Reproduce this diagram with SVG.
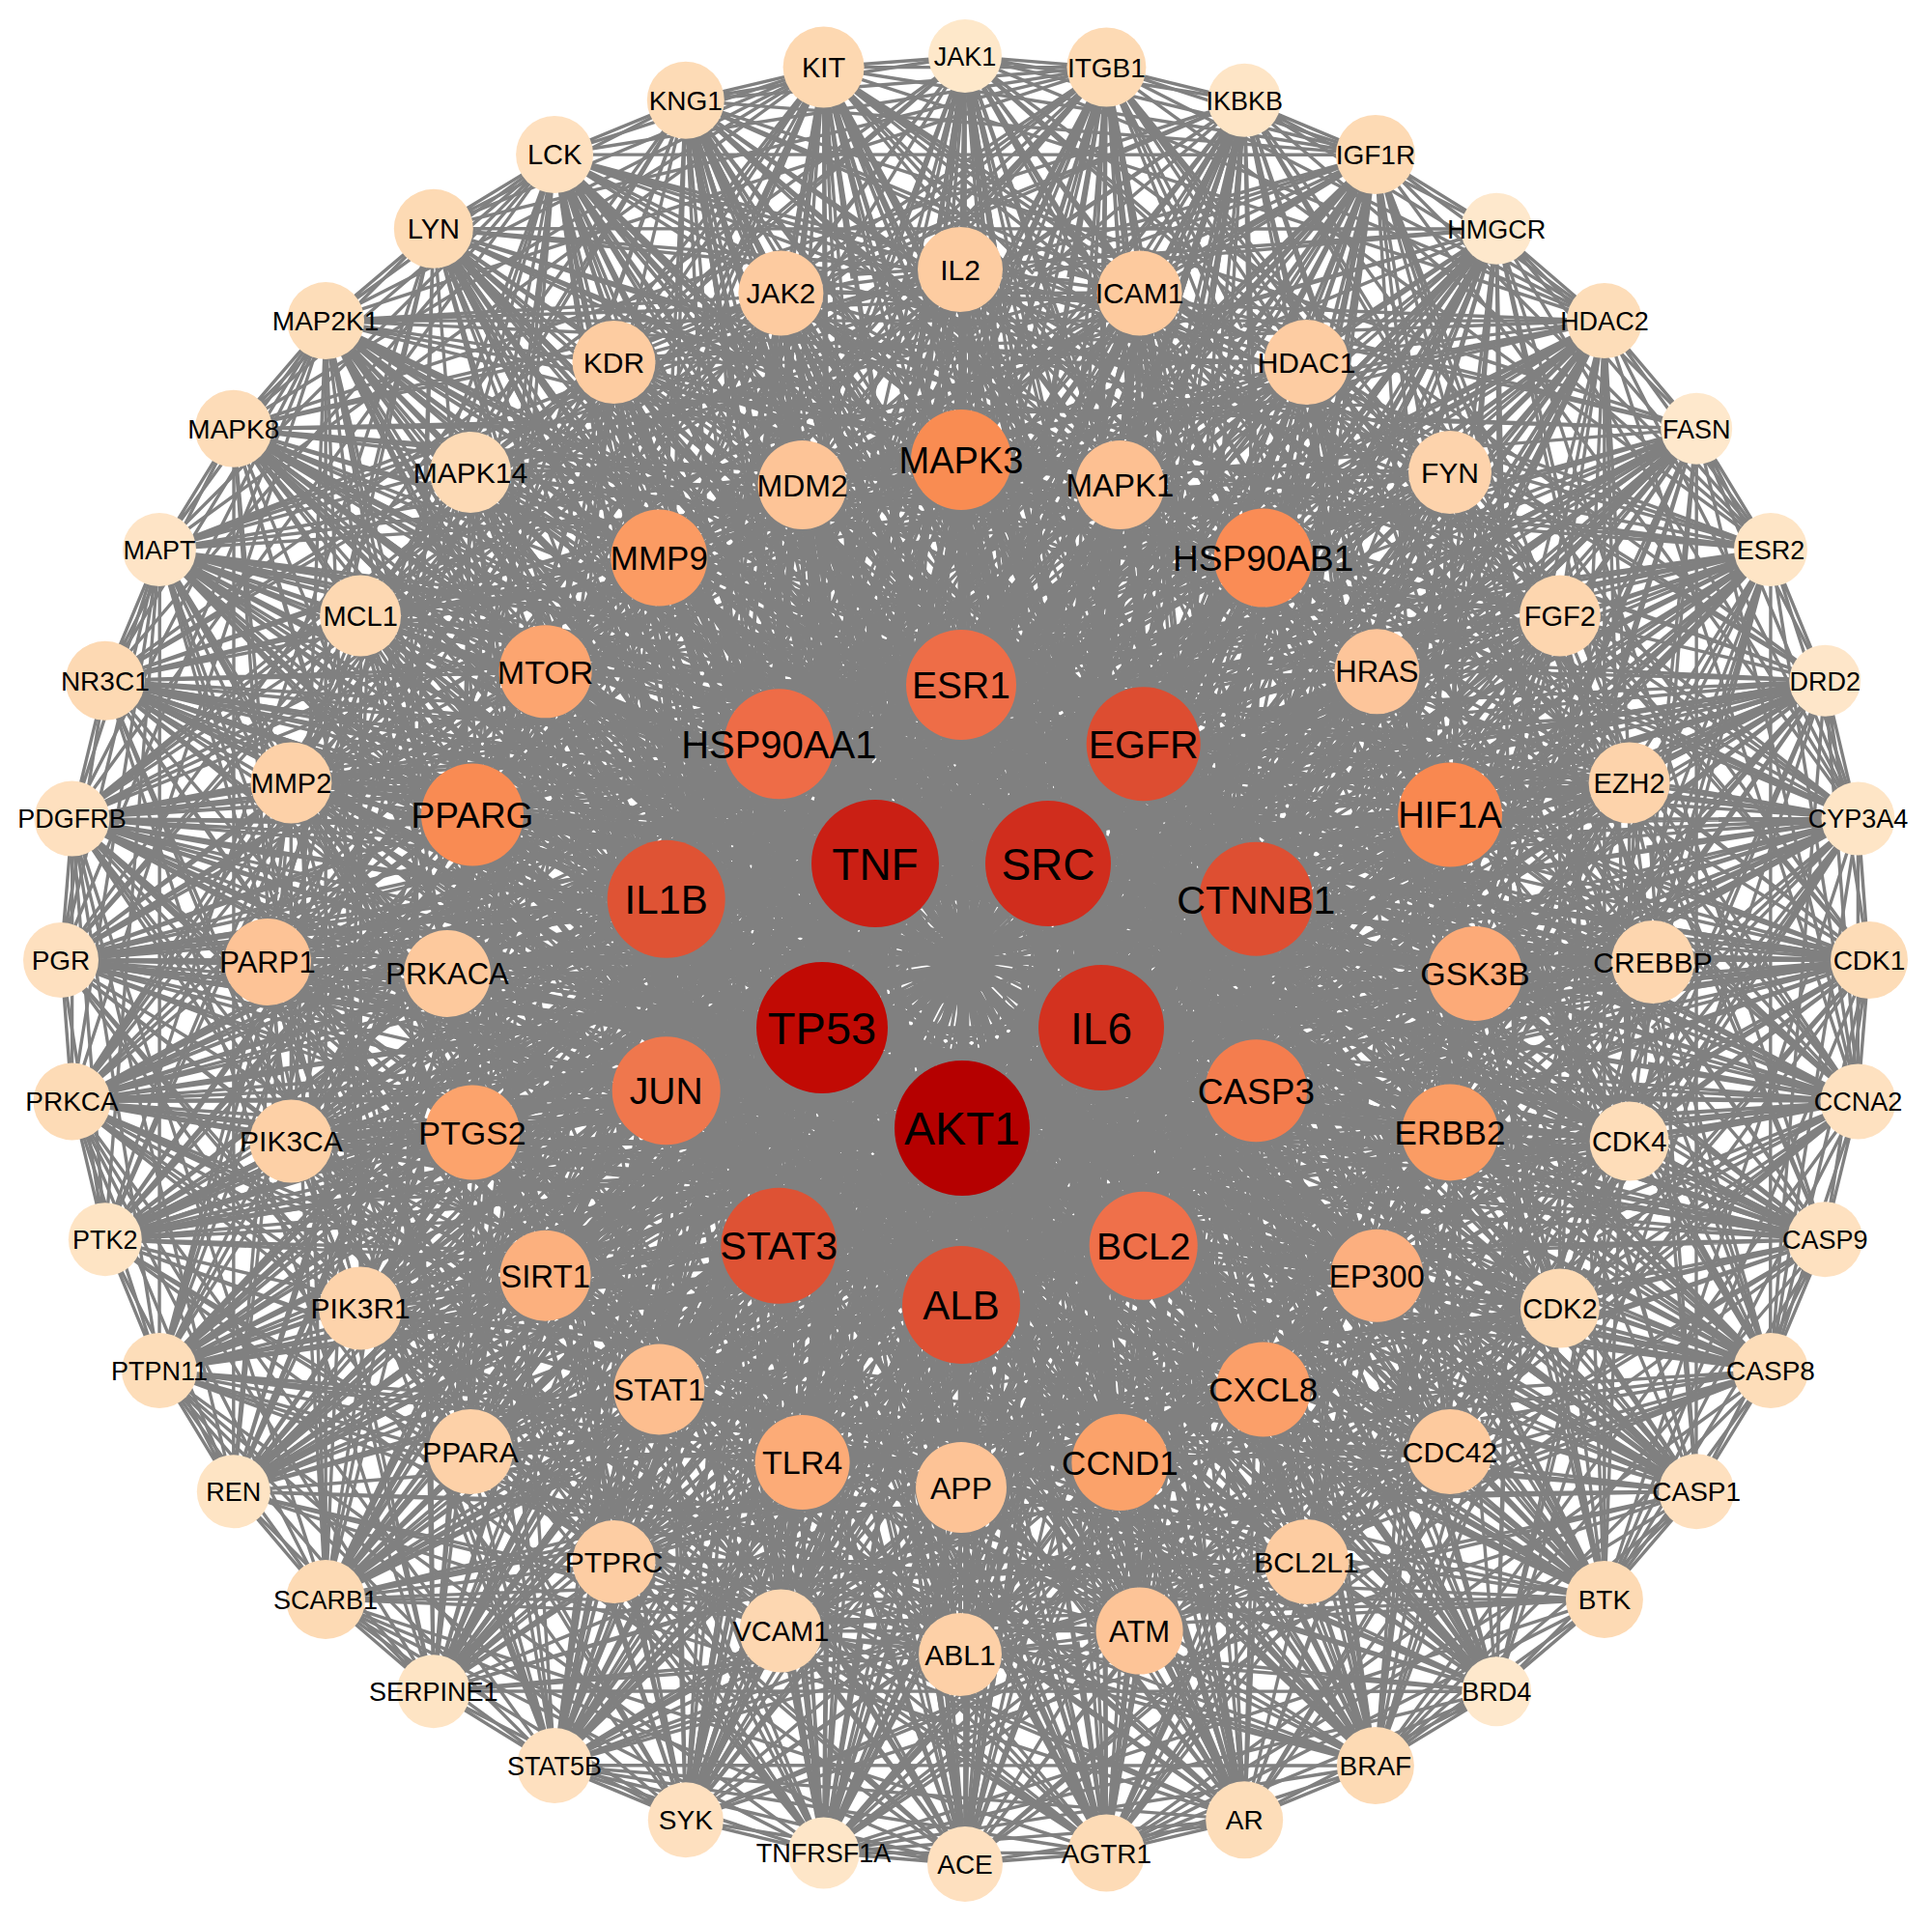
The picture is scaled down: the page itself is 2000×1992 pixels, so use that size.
<svg xmlns="http://www.w3.org/2000/svg" width="2000" height="1992" viewBox="0 0 2000 1992">
<style>
.node text{font-family:"Liberation Sans",Arial,Helvetica,sans-serif;text-anchor:middle;fill:#000}
</style>
<defs>
<path id="eoA" d="M999 58L1145 70M999 58L1288 104M999 58L1424 160M999 58L1661 332M999 58L1889 705M999 58L1833 1419M999 58L999 1930M999 58L1288 1884M999 58L710 1884M999 58L994 279M999 58L1180 303M999 58L808 303M999 58L1353 375M999 58L636 375M999 58L1501 489M999 58L487 489M999 58L1711 996M999 58L277 996M999 58L994 1713M999 58L1180 1689M999 58L808 1689M999 58L995 476M999 58L1159 502M999 58L831 502M999 58L1308 578M999 58L682 578M999 58L1527 1008M999 58L995 1540M999 58L1159 1514M999 58L831 1514M999 58L1308 1438M999 58L682 1438M999 58L995 709M999 58L1184 770M999 58L806 770M999 58L1300 931M999 58L690 931M999 58L995 1351M999 58L906 894M999 58L1085 894M999 58L996 1168M999 58L851 1064M999 58L1140 1064"/>
<path id="eoB" d="M999 58L1145 70M999 58L1288 104M999 58L1549 237M999 58L1756 444M999 58L1935 994M999 58L1549 1751M999 58L1145 1918M999 58L853 1918M999 58L994 279M999 58L1180 303M999 58L808 303M999 58L1353 375M999 58L1615 638M999 58L373 638M999 58L301 810M999 58L1687 810M999 58L636 1617M999 58L1353 1617M999 58L995 476M999 58L1159 502M999 58L1308 578M999 58L1425 695M999 58L565 695M999 58L489 844M999 58L1308 1438M999 58L1425 1321M999 58L565 1321M999 58L995 709M999 58L1184 770M999 58L806 770M999 58L1300 1129M999 58L690 1129M999 58L806 1290M999 58L1184 1290M999 58L906 894M999 58L1085 894M999 58L996 1168M999 58L851 1064M999 58L1140 1064"/>
<path id="em" d="M994 279L1180 303M994 279L1353 375M994 279L1615 638M994 279L1687 1182M994 279L994 1713M994 279L1180 1689M994 279L808 1689M994 279L995 476M994 279L1159 502M994 279L831 502M994 279L1308 578M994 279L682 578M994 279L1425 695M994 279L565 695M994 279L1501 844M994 279L489 844M994 279L995 1540M994 279L1159 1514M994 279L831 1514M994 279L1308 1438M994 279L682 1438M994 279L995 709M994 279L1184 770M994 279L806 770M994 279L1300 931M994 279L690 931M994 279L1300 1129M994 279L690 1129M994 279L995 1351M994 279L1184 1290M994 279L806 1290M994 279L906 894M994 279L1085 894M994 279L996 1168M994 279L851 1064M994 279L1140 1064"/>
<path id="et" d="M995 476L1159 502M995 476L1308 578M995 476L1425 695M995 476L1527 1008M995 476L1425 1321M995 476L995 1540M995 476L1159 1514M995 476L831 1514M995 476L994 1713M995 476L1180 1689M995 476L808 1689M995 476L995 709M995 476L1184 770M995 476L1300 931M995 476L1300 1129M995 476L1184 1290M995 476L995 1351M995 476L806 1290M995 476L690 1129M995 476L690 931M995 476L806 770M995 476L906 894M995 476L1085 894M995 476L996 1168M995 476L851 1064M995 476L1140 1064"/>
<path id="ei" d="M995 709L1184 770M995 709L1300 931M995 709L1300 1129M995 709L1184 1290M995 709L995 1351M995 709L995 1540M995 709L1159 1514M995 709L831 1514M995 709L906 894M995 709L1085 894M995 709L996 1168M995 709L851 1064M995 709L1140 1064"/>
</defs>
<rect width="2000" height="1992" fill="#fff"/>
<g id="edges" fill="none" stroke="#808080" stroke-width="3.4">
<use href="#eoA" transform="rotate(0 999 994)"/><use href="#eoB" transform="rotate(9 999 994)"/>
<use href="#eoA" transform="rotate(18 999 994)"/><use href="#eoB" transform="rotate(27 999 994)"/>
<use href="#eoA" transform="rotate(36 999 994)"/><use href="#eoB" transform="rotate(45 999 994)"/>
<use href="#eoA" transform="rotate(54 999 994)"/><use href="#eoB" transform="rotate(63 999 994)"/>
<use href="#eoA" transform="rotate(72 999 994)"/><use href="#eoB" transform="rotate(81 999 994)"/>
<use href="#eoA" transform="rotate(90 999 994)"/><use href="#eoB" transform="rotate(99 999 994)"/>
<use href="#eoA" transform="rotate(108 999 994)"/><use href="#eoB" transform="rotate(117 999 994)"/>
<use href="#eoA" transform="rotate(126 999 994)"/><use href="#eoB" transform="rotate(135 999 994)"/>
<use href="#eoA" transform="rotate(144 999 994)"/><use href="#eoB" transform="rotate(153 999 994)"/>
<use href="#eoA" transform="rotate(162 999 994)"/><use href="#eoB" transform="rotate(171 999 994)"/>
<use href="#eoA" transform="rotate(180 999 994)"/><use href="#eoB" transform="rotate(189 999 994)"/>
<use href="#eoA" transform="rotate(198 999 994)"/><use href="#eoB" transform="rotate(207 999 994)"/>
<use href="#eoA" transform="rotate(216 999 994)"/><use href="#eoB" transform="rotate(225 999 994)"/>
<use href="#eoA" transform="rotate(234 999 994)"/><use href="#eoB" transform="rotate(243 999 994)"/>
<use href="#eoA" transform="rotate(252 999 994)"/><use href="#eoB" transform="rotate(261 999 994)"/>
<use href="#eoA" transform="rotate(270 999 994)"/><use href="#eoB" transform="rotate(279 999 994)"/>
<use href="#eoA" transform="rotate(288 999 994)"/><use href="#eoB" transform="rotate(297 999 994)"/>
<use href="#eoA" transform="rotate(306 999 994)"/><use href="#eoB" transform="rotate(315 999 994)"/>
<use href="#eoA" transform="rotate(324 999 994)"/><use href="#eoB" transform="rotate(333 999 994)"/>
<use href="#eoA" transform="rotate(342 999 994)"/><use href="#eoB" transform="rotate(351 999 994)"/>
<use href="#em" transform="rotate(0 994 996)"/><use href="#em" transform="rotate(15 994 996)"/>
<use href="#em" transform="rotate(30 994 996)"/><use href="#em" transform="rotate(45 994 996)"/>
<use href="#em" transform="rotate(60 994 996)"/><use href="#em" transform="rotate(75 994 996)"/>
<use href="#em" transform="rotate(90 994 996)"/><use href="#em" transform="rotate(105 994 996)"/>
<use href="#em" transform="rotate(120 994 996)"/><use href="#em" transform="rotate(135 994 996)"/>
<use href="#em" transform="rotate(150 994 996)"/><use href="#em" transform="rotate(165 994 996)"/>
<use href="#em" transform="rotate(180 994 996)"/><use href="#em" transform="rotate(195 994 996)"/>
<use href="#em" transform="rotate(210 994 996)"/><use href="#em" transform="rotate(225 994 996)"/>
<use href="#em" transform="rotate(240 994 996)"/><use href="#em" transform="rotate(255 994 996)"/>
<use href="#em" transform="rotate(270 994 996)"/><use href="#em" transform="rotate(285 994 996)"/>
<use href="#em" transform="rotate(300 994 996)"/><use href="#em" transform="rotate(315 994 996)"/>
<use href="#em" transform="rotate(330 994 996)"/><use href="#em" transform="rotate(345 994 996)"/>
<use href="#et" transform="rotate(0 995 1008)"/><use href="#et" transform="rotate(18 995 1008)"/>
<use href="#et" transform="rotate(36 995 1008)"/><use href="#et" transform="rotate(54 995 1008)"/>
<use href="#et" transform="rotate(72 995 1008)"/><use href="#et" transform="rotate(90 995 1008)"/>
<use href="#et" transform="rotate(108 995 1008)"/><use href="#et" transform="rotate(126 995 1008)"/>
<use href="#et" transform="rotate(144 995 1008)"/><use href="#et" transform="rotate(162 995 1008)"/>
<use href="#et" transform="rotate(180 995 1008)"/><use href="#et" transform="rotate(198 995 1008)"/>
<use href="#et" transform="rotate(216 995 1008)"/><use href="#et" transform="rotate(234 995 1008)"/>
<use href="#et" transform="rotate(252 995 1008)"/><use href="#et" transform="rotate(270 995 1008)"/>
<use href="#et" transform="rotate(288 995 1008)"/><use href="#et" transform="rotate(306 995 1008)"/>
<use href="#et" transform="rotate(324 995 1008)"/><use href="#et" transform="rotate(342 995 1008)"/>
<use href="#ei" transform="rotate(0 995 1030)"/><use href="#ei" transform="rotate(36 995 1030)"/>
<use href="#ei" transform="rotate(72 995 1030)"/><use href="#ei" transform="rotate(108 995 1030)"/>
<use href="#ei" transform="rotate(144 995 1030)"/><use href="#ei" transform="rotate(180 995 1030)"/>
<use href="#ei" transform="rotate(216 995 1030)"/><use href="#ei" transform="rotate(252 995 1030)"/>
<use href="#ei" transform="rotate(288 995 1030)"/><use href="#ei" transform="rotate(324 995 1030)"/>
<path d="M906 894L1085 894M906 894L1140 1064M906 894L996 1168M906 894L851 1064M1085 894L1140 1064M1085 894L996 1168M1085 894L851 1064M1140 1064L996 1168M1140 1064L851 1064M996 1168L851 1064"/>
</g>
<g id="nodes">
<g class="node" id="n-JAK1"><circle cx="999" cy="58" r="38" fill="#FEE8CA"/><text x="999" y="58" dy=".36em" font-size="27">JAK1</text></g>
<g class="node" id="n-ITGB1"><circle cx="1145.4" cy="69.5" r="41" fill="#FDDAB4"/><text x="1145.4" y="69.5" dy=".36em" font-size="28">ITGB1</text></g>
<g class="node" id="n-IKBKB"><circle cx="1288.2" cy="103.8" r="38" fill="#FEE5C6"/><text x="1288.2" y="103.8" dy=".36em" font-size="27">IKBKB</text></g>
<g class="node" id="n-IGF1R"><circle cx="1423.9" cy="160" r="41" fill="#FDDAB4"/><text x="1423.9" y="160" dy=".36em" font-size="28">IGF1R</text></g>
<g class="node" id="n-HMGCR"><circle cx="1549.2" cy="236.8" r="37" fill="#FEE8CC"/><text x="1549.2" y="236.8" dy=".36em" font-size="27">HMGCR</text></g>
<g class="node" id="n-HDAC2"><circle cx="1660.9" cy="332.1" r="39" fill="#FDDDB9"/><text x="1660.9" y="332.1" dy=".36em" font-size="27">HDAC2</text></g>
<g class="node" id="n-FASN"><circle cx="1756.2" cy="443.8" r="37" fill="#FEE8CC"/><text x="1756.2" y="443.8" dy=".36em" font-size="27">FASN</text></g>
<g class="node" id="n-ESR2"><circle cx="1833" cy="569.1" r="38" fill="#FEE5C6"/><text x="1833" y="569.1" dy=".36em" font-size="27">ESR2</text></g>
<g class="node" id="n-DRD2"><circle cx="1889.2" cy="704.8" r="37" fill="#FEE6C9"/><text x="1889.2" y="704.8" dy=".36em" font-size="27">DRD2</text></g>
<g class="node" id="n-CYP3A4"><circle cx="1923.5" cy="847.6" r="38" fill="#FEE5C6"/><text x="1923.5" y="847.6" dy=".36em" font-size="27">CYP3A4</text></g>
<g class="node" id="n-CDK1"><circle cx="1935" cy="994" r="40" fill="#FDDCB7"/><text x="1935" y="994" dy=".36em" font-size="28">CDK1</text></g>
<g class="node" id="n-CCNA2"><circle cx="1923.5" cy="1140.4" r="39" fill="#FEE1C0"/><text x="1923.5" y="1140.4" dy=".36em" font-size="27">CCNA2</text></g>
<g class="node" id="n-CASP9"><circle cx="1889.2" cy="1283.2" r="39" fill="#FEE1C0"/><text x="1889.2" y="1283.2" dy=".36em" font-size="27">CASP9</text></g>
<g class="node" id="n-CASP8"><circle cx="1833" cy="1418.9" r="39" fill="#FDDDB9"/><text x="1833" y="1418.9" dy=".36em" font-size="28">CASP8</text></g>
<g class="node" id="n-CASP1"><circle cx="1756.2" cy="1544.2" r="39" fill="#FEE0BF"/><text x="1756.2" y="1544.2" dy=".36em" font-size="28">CASP1</text></g>
<g class="node" id="n-BTK"><circle cx="1660.9" cy="1655.9" r="40" fill="#FDDAB4"/><text x="1660.9" y="1655.9" dy=".36em" font-size="28">BTK</text></g>
<g class="node" id="n-BRD4"><circle cx="1549.2" cy="1751.2" r="36" fill="#FEE8CC"/><text x="1549.2" y="1751.2" dy=".36em" font-size="27">BRD4</text></g>
<g class="node" id="n-BRAF"><circle cx="1423.9" cy="1828" r="40" fill="#FDDAB4"/><text x="1423.9" y="1828" dy=".36em" font-size="28">BRAF</text></g>
<g class="node" id="n-AR"><circle cx="1288.2" cy="1884.2" r="40" fill="#FDDDB9"/><text x="1288.2" y="1884.2" dy=".36em" font-size="28">AR</text></g>
<g class="node" id="n-AGTR1"><circle cx="1145.4" cy="1918.5" r="40" fill="#FDDBB6"/><text x="1145.4" y="1918.5" dy=".36em" font-size="28">AGTR1</text></g>
<g class="node" id="n-ACE"><circle cx="999" cy="1930" r="39" fill="#FEE0BF"/><text x="999" y="1930" dy=".36em" font-size="28">ACE</text></g>
<g class="node" id="n-TNFRSF1A"><circle cx="852.6" cy="1918.5" r="37" fill="#FEE6C8"/><text x="852.6" y="1918.5" dy=".36em" font-size="27">TNFRSF1A</text></g>
<g class="node" id="n-SYK"><circle cx="709.8" cy="1884.2" r="39" fill="#FEE0BF"/><text x="709.8" y="1884.2" dy=".36em" font-size="28">SYK</text></g>
<g class="node" id="n-STAT5B"><circle cx="574.1" cy="1828" r="39" fill="#FEE0BF"/><text x="574.1" y="1828" dy=".36em" font-size="27">STAT5B</text></g>
<g class="node" id="n-SERPINE1"><circle cx="448.8" cy="1751.2" r="38" fill="#FEE4C4"/><text x="448.8" y="1751.2" dy=".36em" font-size="27">SERPINE1</text></g>
<g class="node" id="n-SCARB1"><circle cx="337.1" cy="1655.9" r="41" fill="#FDDAB4"/><text x="337.1" y="1655.9" dy=".36em" font-size="27">SCARB1</text></g>
<g class="node" id="n-REN"><circle cx="241.8" cy="1544.2" r="38" fill="#FEE4C4"/><text x="241.8" y="1544.2" dy=".36em" font-size="27">REN</text></g>
<g class="node" id="n-PTPN11"><circle cx="165" cy="1418.9" r="39" fill="#FDDDB9"/><text x="165" y="1418.9" dy=".36em" font-size="27">PTPN11</text></g>
<g class="node" id="n-PTK2"><circle cx="108.8" cy="1283.2" r="38" fill="#FEE4C4"/><text x="108.8" y="1283.2" dy=".36em" font-size="27">PTK2</text></g>
<g class="node" id="n-PRKCA"><circle cx="74.5" cy="1140.4" r="40" fill="#FDDBB6"/><text x="74.5" y="1140.4" dy=".36em" font-size="28">PRKCA</text></g>
<g class="node" id="n-PGR"><circle cx="63" cy="994" r="39" fill="#FEE0BF"/><text x="63" y="994" dy=".36em" font-size="28">PGR</text></g>
<g class="node" id="n-PDGFRB"><circle cx="74.5" cy="847.6" r="39" fill="#FEE0BF"/><text x="74.5" y="847.6" dy=".36em" font-size="27">PDGFRB</text></g>
<g class="node" id="n-NR3C1"><circle cx="108.8" cy="704.8" r="41" fill="#FDD9B3"/><text x="108.8" y="704.8" dy=".36em" font-size="28">NR3C1</text></g>
<g class="node" id="n-MAPT"><circle cx="165" cy="569.1" r="38" fill="#FEE4C6"/><text x="165" y="569.1" dy=".36em" font-size="27">MAPT</text></g>
<g class="node" id="n-MAPK8"><circle cx="241.8" cy="443.8" r="40" fill="#FDDCB8"/><text x="241.8" y="443.8" dy=".36em" font-size="28">MAPK8</text></g>
<g class="node" id="n-MAP2K1"><circle cx="337.1" cy="332.1" r="40" fill="#FDDDB9"/><text x="337.1" y="332.1" dy=".36em" font-size="28">MAP2K1</text></g>
<g class="node" id="n-LYN"><circle cx="448.8" cy="236.8" r="41" fill="#FDDAB4"/><text x="448.8" y="236.8" dy=".36em" font-size="29">LYN</text></g>
<g class="node" id="n-LCK"><circle cx="574.1" cy="160" r="40" fill="#FEE0BF"/><text x="574.1" y="160" dy=".36em" font-size="29">LCK</text></g>
<g class="node" id="n-KNG1"><circle cx="709.8" cy="103.8" r="40" fill="#FDDBB6"/><text x="709.8" y="103.8" dy=".36em" font-size="28">KNG1</text></g>
<g class="node" id="n-KIT"><circle cx="852.6" cy="69.5" r="42" fill="#FDD8B1"/><text x="852.6" y="69.5" dy=".36em" font-size="29">KIT</text></g>

<g class="node" id="n-IL2"><circle cx="994" cy="279" r="44" fill="#FDCCA1"/><text x="994" y="279" dy=".36em" font-size="30">IL2</text></g>
<g class="node" id="n-ICAM1"><circle cx="1179.6" cy="303.4" r="44" fill="#FDCA9E"/><text x="1179.6" y="303.4" dy=".36em" font-size="30">ICAM1</text></g>
<g class="node" id="n-HDAC1"><circle cx="1352.5" cy="375.1" r="44" fill="#FDCCA2"/><text x="1352.5" y="375.1" dy=".36em" font-size="30">HDAC1</text></g>
<g class="node" id="n-FYN"><circle cx="1501" cy="489" r="43" fill="#FDD3AC"/><text x="1501" y="489" dy=".36em" font-size="30">FYN</text></g>
<g class="node" id="n-FGF2"><circle cx="1614.9" cy="637.5" r="42" fill="#FDD6AF"/><text x="1614.9" y="637.5" dy=".36em" font-size="29">FGF2</text></g>
<g class="node" id="n-EZH2"><circle cx="1686.6" cy="810.4" r="42" fill="#FDD3AB"/><text x="1686.6" y="810.4" dy=".36em" font-size="29">EZH2</text></g>
<g class="node" id="n-CREBBP"><circle cx="1711" cy="996" r="43" fill="#FDD6AF"/><text x="1711" y="996" dy=".36em" font-size="30">CREBBP</text></g>
<g class="node" id="n-CDK4"><circle cx="1686.6" cy="1181.6" r="41" fill="#FEDDB9"/><text x="1686.6" y="1181.6" dy=".36em" font-size="29">CDK4</text></g>
<g class="node" id="n-CDK2"><circle cx="1614.9" cy="1354.5" r="41" fill="#FDDAB4"/><text x="1614.9" y="1354.5" dy=".36em" font-size="29">CDK2</text></g>
<g class="node" id="n-CDC42"><circle cx="1501" cy="1503" r="44" fill="#FDCA9E"/><text x="1501" y="1503" dy=".36em" font-size="30">CDC42</text></g>
<g class="node" id="n-BCL2L1"><circle cx="1352.5" cy="1616.9" r="44" fill="#FDCCA1"/><text x="1352.5" y="1616.9" dy=".36em" font-size="30">BCL2L1</text></g>
<g class="node" id="n-ATM"><circle cx="1179.6" cy="1688.6" r="45" fill="#FDC497"/><text x="1179.6" y="1688.6" dy=".36em" font-size="31">ATM</text></g>
<g class="node" id="n-ABL1"><circle cx="994" cy="1713" r="43" fill="#FDD0A7"/><text x="994" y="1713" dy=".36em" font-size="30">ABL1</text></g>
<g class="node" id="n-VCAM1"><circle cx="808.4" cy="1688.6" r="43" fill="#FDD7B1"/><text x="808.4" y="1688.6" dy=".36em" font-size="29">VCAM1</text></g>
<g class="node" id="n-PTPRC"><circle cx="635.5" cy="1616.9" r="43" fill="#FDCDA3"/><text x="635.5" y="1616.9" dy=".36em" font-size="30">PTPRC</text></g>
<g class="node" id="n-PPARA"><circle cx="487" cy="1503" r="44" fill="#FDD1A8"/><text x="487" y="1503" dy=".36em" font-size="30">PPARA</text></g>
<g class="node" id="n-PIK3R1"><circle cx="373.1" cy="1354.5" r="43" fill="#FDD3AB"/><text x="373.1" y="1354.5" dy=".36em" font-size="30">PIK3R1</text></g>
<g class="node" id="n-PIK3CA"><circle cx="301.4" cy="1181.6" r="43" fill="#FDD0A6"/><text x="301.4" y="1181.6" dy=".36em" font-size="30">PIK3CA</text></g>
<g class="node" id="n-PARP1"><circle cx="277" cy="996" r="45" fill="#FDC396"/><text x="277" y="996" dy=".36em" font-size="31">PARP1</text></g>
<g class="node" id="n-MMP2"><circle cx="301.4" cy="810.4" r="42" fill="#FDD1A8"/><text x="301.4" y="810.4" dy=".36em" font-size="29">MMP2</text></g>
<g class="node" id="n-MCL1"><circle cx="373.1" cy="637.5" r="42" fill="#FDD8B2"/><text x="373.1" y="637.5" dy=".36em" font-size="29">MCL1</text></g>
<g class="node" id="n-MAPK14"><circle cx="487" cy="489" r="42" fill="#FDDAB5"/><text x="487" y="489" dy=".36em" font-size="30">MAPK14</text></g>
<g class="node" id="n-KDR"><circle cx="635.5" cy="375.1" r="43" fill="#FDCCA1"/><text x="635.5" y="375.1" dy=".36em" font-size="30">KDR</text></g>
<g class="node" id="n-JAK2"><circle cx="808.4" cy="303.4" r="44" fill="#FDCBA0"/><text x="808.4" y="303.4" dy=".36em" font-size="30">JAK2</text></g>

<g class="node" id="n-MAPK3"><circle cx="995" cy="476" r="52" fill="#F98C52"/><text x="995" y="476" dy=".36em" font-size="38">MAPK3</text></g>
<g class="node" id="n-MAPK1"><circle cx="1159.4" cy="502" r="46" fill="#FDC092"/><text x="1159.4" y="502" dy=".36em" font-size="33">MAPK1</text></g>
<g class="node" id="n-HSP90AB1"><circle cx="1307.7" cy="577.6" r="51" fill="#FA8C55"/><text x="1307.7" y="577.6" dy=".36em" font-size="37">HSP90AB1</text></g>
<g class="node" id="n-HRAS"><circle cx="1425.4" cy="695.3" r="44" fill="#FDC59A"/><text x="1425.4" y="695.3" dy=".36em" font-size="31">HRAS</text></g>
<g class="node" id="n-HIF1A"><circle cx="1501" cy="843.6" r="54" fill="#F98850"/><text x="1501" y="843.6" dy=".36em" font-size="38">HIF1A</text></g>
<g class="node" id="n-GSK3B"><circle cx="1527" cy="1008" r="49" fill="#FCAA78"/><text x="1527" y="1008" dy=".36em" font-size="34">GSK3B</text></g>
<g class="node" id="n-ERBB2"><circle cx="1501" cy="1172.4" r="50" fill="#FA9C64"/><text x="1501" y="1172.4" dy=".36em" font-size="35">ERBB2</text></g>
<g class="node" id="n-EP300"><circle cx="1425.4" cy="1320.7" r="48" fill="#FCAF7F"/><text x="1425.4" y="1320.7" dy=".36em" font-size="33">EP300</text></g>
<g class="node" id="n-CXCL8"><circle cx="1307.7" cy="1438.4" r="49" fill="#FB9F69"/><text x="1307.7" y="1438.4" dy=".36em" font-size="35">CXCL8</text></g>
<g class="node" id="n-CCND1"><circle cx="1159.4" cy="1514" r="50" fill="#FBA26A"/><text x="1159.4" y="1514" dy=".36em" font-size="35">CCND1</text></g>
<g class="node" id="n-APP"><circle cx="995" cy="1540" r="47" fill="#FDC396"/><text x="995" y="1540" dy=".36em" font-size="32">APP</text></g>
<g class="node" id="n-TLR4"><circle cx="830.6" cy="1514" r="49" fill="#FCAB77"/><text x="830.6" y="1514" dy=".36em" font-size="34">TLR4</text></g>
<g class="node" id="n-STAT1"><circle cx="682.3" cy="1438.4" r="47" fill="#FDBE8F"/><text x="682.3" y="1438.4" dy=".36em" font-size="32">STAT1</text></g>
<g class="node" id="n-SIRT1"><circle cx="564.6" cy="1320.7" r="47" fill="#FCB07E"/><text x="564.6" y="1320.7" dy=".36em" font-size="33">SIRT1</text></g>
<g class="node" id="n-PTGS2"><circle cx="489" cy="1172.4" r="49" fill="#FCA36C"/><text x="489" y="1172.4" dy=".36em" font-size="34">PTGS2</text></g>
<g class="node" id="n-PRKACA"><circle cx="463" cy="1008" r="45" fill="#FDC99D"/><text x="463" y="1008" dy=".36em" font-size="31">PRKACA</text></g>
<g class="node" id="n-PPARG"><circle cx="489" cy="843.6" r="53" fill="#F98B53"/><text x="489" y="843.6" dy=".36em" font-size="37">PPARG</text></g>
<g class="node" id="n-MTOR"><circle cx="564.6" cy="695.3" r="48" fill="#FCA570"/><text x="564.6" y="695.3" dy=".36em" font-size="34">MTOR</text></g>
<g class="node" id="n-MMP9"><circle cx="682.3" cy="577.6" r="50" fill="#FB9B63"/><text x="682.3" y="577.6" dy=".36em" font-size="35">MMP9</text></g>
<g class="node" id="n-MDM2"><circle cx="830.6" cy="502" r="46" fill="#FDC497"/><text x="830.6" y="502" dy=".36em" font-size="32">MDM2</text></g>

<g class="node" id="n-ESR1"><circle cx="995" cy="709" r="57" fill="#EE6D47"/><text x="995" y="709" dy=".36em" font-size="39">ESR1</text></g>
<g class="node" id="n-EGFR"><circle cx="1183.7" cy="770.3" r="59" fill="#DD4D31"/><text x="1183.7" y="770.3" dy=".36em" font-size="41">EGFR</text></g>
<g class="node" id="n-CTNNB1"><circle cx="1300.3" cy="930.8" r="59" fill="#DE4F32"/><text x="1300.3" y="930.8" dy=".36em" font-size="41">CTNNB1</text></g>
<g class="node" id="n-CASP3"><circle cx="1300.3" cy="1129.2" r="53" fill="#F47D4E"/><text x="1300.3" y="1129.2" dy=".36em" font-size="37">CASP3</text></g>
<g class="node" id="n-BCL2"><circle cx="1183.7" cy="1289.7" r="56" fill="#EF704A"/><text x="1183.7" y="1289.7" dy=".36em" font-size="39">BCL2</text></g>
<g class="node" id="n-ALB"><circle cx="995" cy="1351" r="61" fill="#DE5033"/><text x="995" y="1351" dy=".36em" font-size="42">ALB</text></g>
<g class="node" id="n-STAT3"><circle cx="806.3" cy="1289.7" r="60" fill="#DE5234"/><text x="806.3" y="1289.7" dy=".36em" font-size="41">STAT3</text></g>
<g class="node" id="n-JUN"><circle cx="689.7" cy="1129.2" r="56" fill="#EF774D"/><text x="689.7" y="1129.2" dy=".36em" font-size="39">JUN</text></g>
<g class="node" id="n-IL1B"><circle cx="689.7" cy="930.8" r="61" fill="#DF5334"/><text x="689.7" y="930.8" dy=".36em" font-size="42">IL1B</text></g>
<g class="node" id="n-HSP90AA1"><circle cx="806.3" cy="770.3" r="57" fill="#EE6C47"/><text x="806.3" y="770.3" dy=".36em" font-size="40">HSP90AA1</text></g>

<g class="node" id="n-TNF"><circle cx="906" cy="894" r="66" fill="#CA1F14"/><text x="906" y="894" dy=".36em" font-size="46">TNF</text></g>
<g class="node" id="n-SRC"><circle cx="1085" cy="894" r="65" fill="#D02D1D"/><text x="1085" y="894" dy=".36em" font-size="46">SRC</text></g>
<g class="node" id="n-IL6"><circle cx="1140" cy="1064" r="65" fill="#D3321F"/><text x="1140" y="1064" dy=".36em" font-size="46">IL6</text></g>
<g class="node" id="n-TP53"><circle cx="851" cy="1064" r="68" fill="#C10A04"/><text x="851" y="1064" dy=".36em" font-size="47">TP53</text></g>
<g class="node" id="n-AKT1"><circle cx="996" cy="1168" r="70" fill="#B50000"/><text x="996" y="1168" dy=".36em" font-size="48">AKT1</text></g>
</g>
</svg>
